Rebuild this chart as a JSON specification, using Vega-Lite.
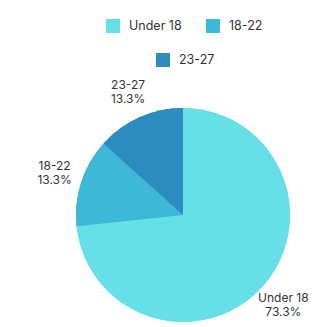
{
  "$schema": "https://vega.github.io/schema/vega-lite/v6.json",
  "width": 214,
  "height": 214,
  "autosize": {"type": "none"},
  "padding": {"left": 76, "top": 108, "right": 40, "bottom": 5},
  "background": "white",
  "config": {
    "view": {"stroke": null},
    "font": "Inter",
    "legend": {
      "padding": 0,
      "symbolType": "square",
      "symbolSize": 196,
      "symbolStrokeWidth": 0,
      "symbolOpacity": 1,
      "labelFontSize": 12.5,
      "labelColor": "#333333",
      "labelFont": "Inter",
      "labelOffset": 9,
      "columnPadding": 24
    }
  },
  "data": {
    "values": [
      {"group": "Under 18", "count": 11, "pct": "73.3%", "ord": 1},
      {"group": "18-22", "count": 2, "pct": "13.3%", "ord": 2},
      {"group": "23-27", "count": 2, "pct": "13.3%", "ord": 3}
    ]
  },
  "encoding": {
    "theta": {"field": "count", "type": "quantitative", "stack": true},
    "order": {"field": "ord", "type": "quantitative"}
  },
  "layer": [
    {
      "mark": {"type": "arc"},
      "encoding": {
        "color": {
          "field": "group",
          "type": "nominal",
          "scale": {"domain": ["Under 18", "18-22", "23-27"], "range": ["#66E0E6", "#3DB8D6", "#2C8CBF"]},
          "legend": {"title": null, "values": ["Under 18", "18-22"], "orient": "none", "legendX": 30, "legendY": -89, "direction": "horizontal"}
        }
      }
    },
    {
      "mark": {"type": "arc"},
      "encoding": {
        "color": {
          "field": "group",
          "type": "nominal",
          "scale": {"domain": ["Under 18", "18-22", "23-27"], "range": ["#66E0E6", "#3DB8D6", "#2C8CBF"]},
          "legend": {"title": null, "values": ["23-27"], "orient": "none", "legendX": 80, "legendY": -55, "direction": "horizontal"}
        }
      }
    },
    {
      "mark": {"type": "text", "radius": 135, "dy": -7, "fontSize": 12, "fill": "#333333"},
      "encoding": {"text": {"field": "group"}}
    },
    {
      "mark": {"type": "text", "radius": 135, "dy": 7, "fontSize": 12, "fill": "#333333"},
      "encoding": {"text": {"field": "pct"}}
    }
  ],
  "resolve": {"scale": {"color": "independent"}}
}
